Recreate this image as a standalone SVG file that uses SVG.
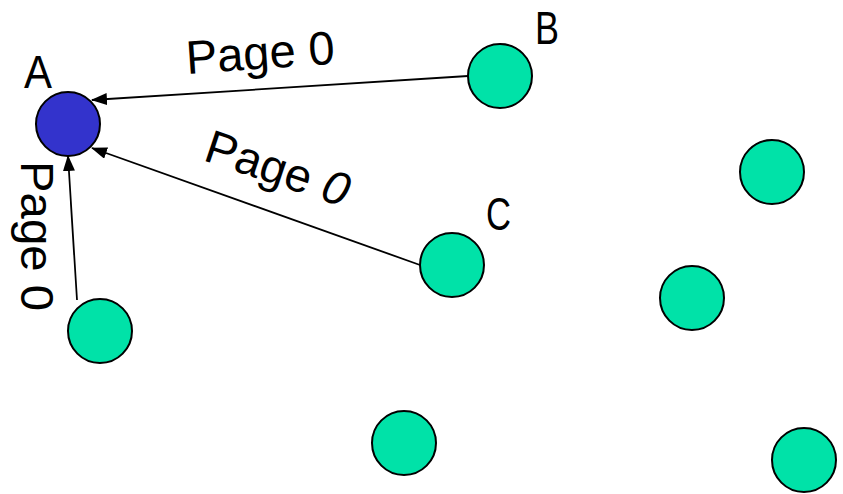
<svg xmlns="http://www.w3.org/2000/svg" width="843" height="494" viewBox="0 0 843 494">
<style>
.node{fill:#00E2A8;stroke:#000;stroke-width:2}
.a{fill:#3333CC;stroke:#000;stroke-width:2}
.edge{stroke:#000;stroke-width:1.8;fill:none;marker-end:url(#arr)}
.lbl{font-family:"Liberation Sans",Arial,sans-serif;font-size:47px;fill:#000}
.name{font-family:"Liberation Sans",Arial,sans-serif;font-size:46px;fill:#000}
</style>
<defs>
<marker id="arr" markerUnits="userSpaceOnUse" markerWidth="16" markerHeight="12" refX="15" refY="6" orient="auto">
<path d="M0,0 L16,6 L0,12 Z" fill="#000"/>
</marker>
</defs>
<g id="connectors">
<line class="edge" x1="468" y1="76" x2="92" y2="100"/>
<line class="edge" x1="420" y1="265" x2="92" y2="148"/>
<line class="edge" x1="77" y1="300" x2="68" y2="156"/>
<text class="lbl" transform="translate(187,74) rotate(-4)">Page 0</text>
<text class="lbl" transform="translate(202,160) rotate(18.5)">Page <tspan font-style="italic">0</tspan></text>
<text class="lbl" transform="translate(21,161) rotate(90)" textLength="150" lengthAdjust="spacingAndGlyphs">Page 0</text>
</g>
<g id="nodeA"><circle class="a" cx="68" cy="124" r="32"/><text class="name" x="24" y="88" textLength="28" lengthAdjust="spacingAndGlyphs">A</text></g>
<g id="nodeB"><circle class="node" cx="500" cy="76" r="32"/><text class="name" x="535" y="44" textLength="24" lengthAdjust="spacingAndGlyphs">B</text></g>
<g id="nodeC"><circle class="node" cx="452" cy="265" r="32"/><text class="name" x="486" y="230" textLength="25" lengthAdjust="spacingAndGlyphs">C</text></g>
<g id="nodeD"><circle class="node" cx="100" cy="331" r="32"/></g>
<g id="nodeE"><circle class="node" cx="772" cy="172" r="32"/></g>
<g id="nodeF"><circle class="node" cx="692" cy="298" r="32"/></g>
<g id="nodeG"><circle class="node" cx="404" cy="443" r="32"/></g>
<g id="nodeH"><circle class="node" cx="804" cy="460" r="32"/></g>
</svg>
